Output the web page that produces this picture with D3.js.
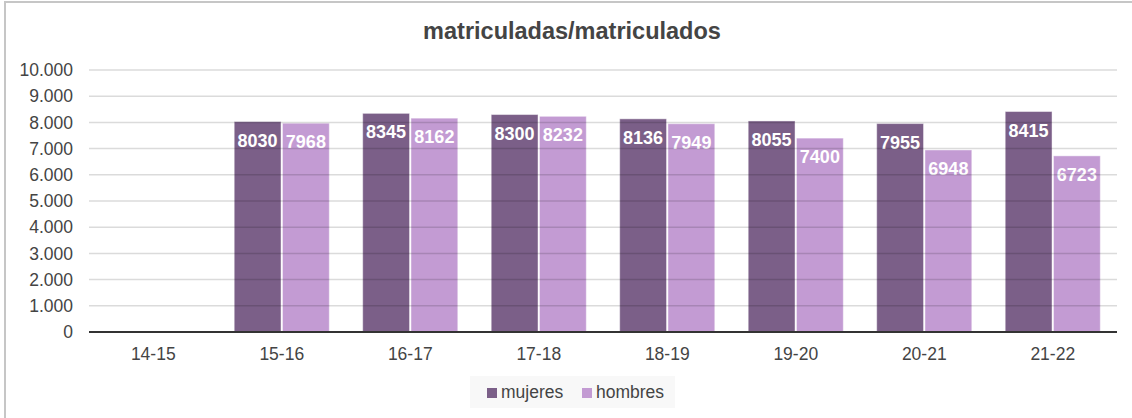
<!DOCTYPE html>
<html>
<head>
<meta charset="utf-8">
<script src="https://cdn.jsdelivr.net/npm/d3@7"></script>
<style>
  html, body { margin: 0; padding: 0; background: #fff; }
  svg { display: block; font-family: Arial, "Liberation Sans", sans-serif; }
</style>
</head>
<body>
<div id="chart"></div>
<script>
// data
var cursos = ["14-15", "15-16", "16-17", "17-18", "18-19", "19-20", "20-21", "21-22"];
var mujeres = [null, 8030, 8345, 8300, 8136, 8055, 7955, 8415];
var hombres = [null, 7968, 8162, 8232, 7949, 7400, 6948, 6723];
var yTicks = [0, 1000, 2000, 3000, 4000, 5000, 6000, 7000, 8000, 9000, 10000];
var series = ["mujeres", "hombres"];
var colores = { mujeres: "#7b5f88", hombres: "#c39bd3" };

var W = 1132, H = 418;
var margin = {top: 70, right: 15, bottom: 86, left: 89},
    width = W - margin.left - margin.right,
    height = H - margin.top - margin.bottom;

var svg = d3.select("#chart").append("svg")
    .attr("width", W)
    .attr("height", H);

// frame (only top & left edge visible in the reference)
svg.append("rect")
    .attr("x", 5).attr("y", 2)
    .attr("width", W + 10).attr("height", H + 10)
    .attr("fill", "none")
    .attr("stroke", "#c6c6c6")
    .attr("stroke-width", 2);

svg.append("text")
    .attr("x", 572).attr("y", 39)
    .attr("text-anchor", "middle")
    .attr("font-size", 23.5)
    .attr("font-weight", "bold")
    .attr("fill", "#444")
    .text("matriculadas/matriculados");

var g = svg.append("g")
    .attr("transform", "translate(" + margin.left + "," + margin.top + ")");

var x = d3.scaleBand().domain(cursos).range([0, width]).paddingInner(0.26).paddingOuter(0.13);
var x1 = d3.scaleBand().domain(series).range([0, x.bandwidth()]).paddingInner(0.03);
var y = d3.scaleLinear().domain([0, 10000]).range([height, 0]);

var fmt = function(d) { return d3.format(",")(d).replace(/,/g, "."); };

// y axis labels
g.append("g")
    .call(d3.axisLeft(y).tickValues(yTicks).tickSize(0).tickPadding(16).tickFormat(fmt))
    .call(function(a) { a.select(".domain").remove(); })
    .selectAll("text")
    .attr("font-size", 17.5)
    .attr("font-family", "Arial, 'Liberation Sans', sans-serif")
    .attr("fill", "#444");

// bars
var rows = cursos.map(function(c, i) { return {curso: c, mujeres: mujeres[i], hombres: hombres[i]}; });
var grupos = g.selectAll(".grupo").data(rows).enter().append("g")
    .attr("class", "grupo")
    .attr("transform", function(d) { return "translate(" + x(d.curso) + ",0)"; });

var barras = grupos.selectAll(".bar")
    .data(function(d) { return series.filter(function(s) { return d[s] != null; })
        .map(function(s) { return {serie: s, valor: d[s]}; }); })
    .enter();

barras.append("rect")
    .attr("class", "bar")
    .attr("x", function(d) { return x1(d.serie); })
    .attr("y", function(d) { return y(d.valor); })
    .attr("width", x1.bandwidth())
    .attr("height", function(d) { return height - y(d.valor); })
    .attr("fill", function(d) { return colores[d.serie]; })
    .attr("stroke", "rgba(255,255,255,0.45)")
    .attr("stroke-width", 1);

// gridlines drawn over bars, semi transparent
g.append("g")
    .selectAll("line")
    .data(yTicks.filter(function(t) { return t > 0; }))
    .enter().append("line")
    .attr("x1", 0).attr("x2", width)
    .attr("y1", function(d) { return y(d); })
    .attr("y2", function(d) { return y(d); })
    .attr("stroke", "rgba(0,0,0,0.14)")
    .attr("stroke-width", 1.5);

// value labels
barras.append("text")
    .attr("x", function(d) { return x1(d.serie) + x1.bandwidth() / 2; })
    .attr("y", function(d) { return y(d.valor) + 25; })
    .attr("text-anchor", "middle")
    .attr("font-size", 18)
    .attr("font-weight", "bold")
    .attr("fill", "#fff")
    .text(function(d) { return d.valor; });

// x axis
g.append("line")
    .attr("x1", 0).attr("x2", width)
    .attr("y1", height).attr("y2", height)
    .attr("stroke", "#333")
    .attr("stroke-width", 2);

g.append("g")
    .attr("transform", "translate(0," + height + ")")
    .call(d3.axisBottom(x).tickSize(0).tickPadding(16))
    .call(function(a) { a.select(".domain").remove(); })
    .selectAll("text")
    .attr("font-size", 17.5)
    .attr("font-family", "Arial, 'Liberation Sans', sans-serif")
    .attr("fill", "#444");

// legend
var leg = svg.append("g");
leg.append("rect")
    .attr("x", 470).attr("y", 376)
    .attr("width", 205).attr("height", 32)
    .attr("fill", "#f8f8f8");

var legX = [487, 582];
var item = leg.selectAll(".item").data(series).enter().append("g")
    .attr("class", "item")
    .attr("transform", function(d, i) { return "translate(" + legX[i] + ",388)"; });
item.append("rect")
    .attr("width", 10).attr("height", 10)
    .attr("fill", function(d) { return colores[d]; });
item.append("text")
    .attr("x", 14).attr("y", 10)
    .attr("font-size", 17.5)
    .attr("fill", "#444")
    .text(function(d) { return d; });
</script>
</body>
</html>
